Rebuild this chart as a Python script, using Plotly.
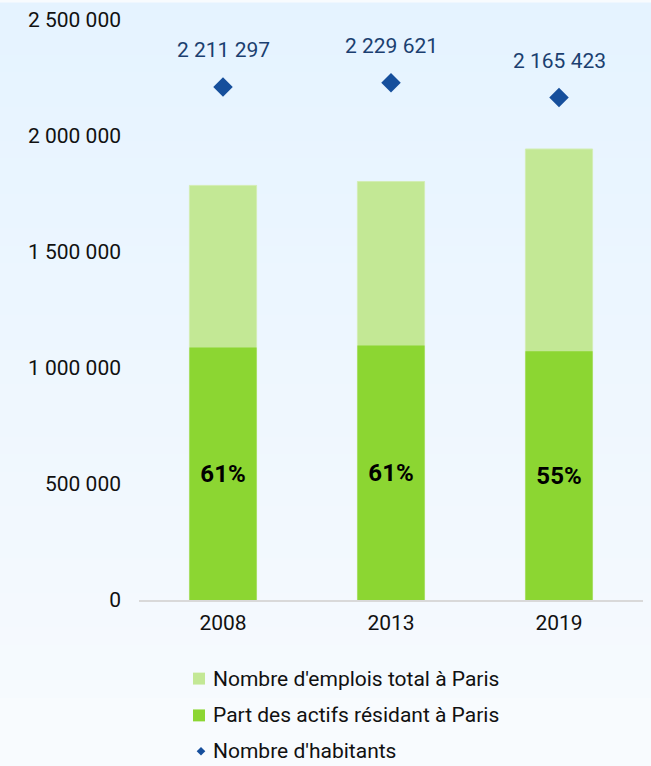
import plotly.graph_objects as go

years = ["2008", "2013", "2019"]
emplois_total = [1787000, 1804000, 1944000]
actifs_residents = [1088000, 1097000, 1072000]
part_labels = ["61%", "61%", "55%"]
habitants = [2211297, 2229621, 2165423]
legend_names = ["Nombre d'emplois total à Paris",
                "Part des actifs résidant à Paris",
                "Nombre d'habitants"]

W, H = 651, 766
L, R, T, B = 139, 8, 17, 166
pw, ph = W - L - R, H - T - B

FONT = "Roboto"
C_LIGHT, C_DARK, C_DIAM = "#C3E895", "#8CD632", "#164F9C"


def px_x(px):
    return (px - L) / pw


def px_y(py):
    return (H - B - py) / ph


fig = go.Figure()
fig.add_trace(go.Bar(
    x=years, y=emplois_total, name=legend_names[0],
    marker=dict(color=C_LIGHT, line=dict(color="#D3EDB5", width=1)),
    width=0.4, hoverinfo="skip",
))
fig.add_trace(go.Bar(
    x=years, y=actifs_residents, name=legend_names[1],
    marker=dict(color=C_DARK, line=dict(width=0)),
    width=0.4, text=part_labels, textposition="inside",
    insidetextanchor="middle", textangle=0,
    textfont=dict(family=FONT, size=24, color="#000000", weight="bold"),
    hoverinfo="skip",
))
fig.add_trace(go.Scatter(
    x=years, y=habitants, name=legend_names[2], mode="markers",
    marker=dict(symbol="diamond", size=15, color=C_DIAM),
    hoverinfo="skip",
))

for i, v in enumerate(habitants):
    fig.add_annotation(
        x=i, y=v, text=f"{v:,}".replace(",", " "), showarrow=False,
        yshift=37, font=dict(family=FONT, size=21, color="#1B3F70"),
    )

# background gradient bands (pixel -> paper)
top_c = (229, 243, 255)
bot_c = (246, 250, 254)
grad_end = 698
n = 40
for i in range(n):
    y0p = grad_end * i / n
    y1p = grad_end * (i + 1) / n
    t = (i + 0.5) / n
    c = tuple(round(top_c[k] + (bot_c[k] - top_c[k]) * t) for k in range(3))
    fig.add_shape(
        type="rect", xref="paper", yref="paper", layer="below",
        x0=px_x(0), x1=px_x(W),
        y0=px_y(y1p + 0.5), y1=px_y(y0p - 0.5),
        fillcolor="rgb(%d,%d,%d)" % c, line=dict(width=0),
    )

# custom legend
rows = [679, 716, 752]
sym_cx = 199
for k, (name, ry) in enumerate(zip(legend_names, rows)):
    if k < 2:
        fig.add_shape(
            type="rect", xref="paper", yref="paper",
            x0=px_x(sym_cx - 6), x1=px_x(sym_cx + 6),
            y0=px_y(ry + 6), y1=px_y(ry - 6),
            fillcolor=[C_LIGHT, C_DARK][k], line=dict(width=0),
        )
    else:
        d = 4.3
        path = "M {x0} {ym} L {xm} {y1} L {x1} {ym} L {xm} {y0} Z".format(
            x0=px_x(sym_cx - d + 2), x1=px_x(sym_cx + d + 2), xm=px_x(sym_cx + 2),
            y0=px_y(ry + d), y1=px_y(ry - d), ym=px_y(ry),
        )
        fig.add_shape(type="path", xref="paper", yref="paper", path=path,
                      fillcolor=C_DIAM, line=dict(width=0))
    fig.add_annotation(
        x=px_x(211), y=px_y(ry), xref="paper", yref="paper", text=name,
        xanchor="left", yanchor="middle", showarrow=False,
        font=dict(family=FONT, size=21, color="#111111"),
    )

fig.update_layout(
    width=W, height=H,
    margin=dict(l=L, r=R, t=T, b=B, pad=0),
    paper_bgcolor="#F8FBFE", plot_bgcolor="rgba(0,0,0,0)",
    barmode="overlay", bargap=0.6,
    separators=", ",
    font=dict(family=FONT, size=19, color="#111111"),
    showlegend=False,
    xaxis=dict(
        type="category", range=[-0.5, 2.5], showgrid=False, zeroline=False,
        showline=True, linecolor="#D9D9D9", linewidth=2,
        ticks="", tickfont=dict(family=FONT, size=21, color="#111111"),
        ticklabelstandoff=3,
    ),
    yaxis=dict(
        range=[0, 2500000], tickvals=[0, 500000, 1000000, 1500000, 2000000, 2500000],
        tickformat=",d", showgrid=False, zeroline=False, showline=False,
        ticks="", tickfont=dict(family=FONT, size=21, color="#111111"),
        ticklabelstandoff=17,
    ),
)

fig.write_html(
    "out.html",
    config={"displayModeBar": False},
    post_script="document.body.style.margin='0';document.body.style.background='#F8FBFE';",
)
